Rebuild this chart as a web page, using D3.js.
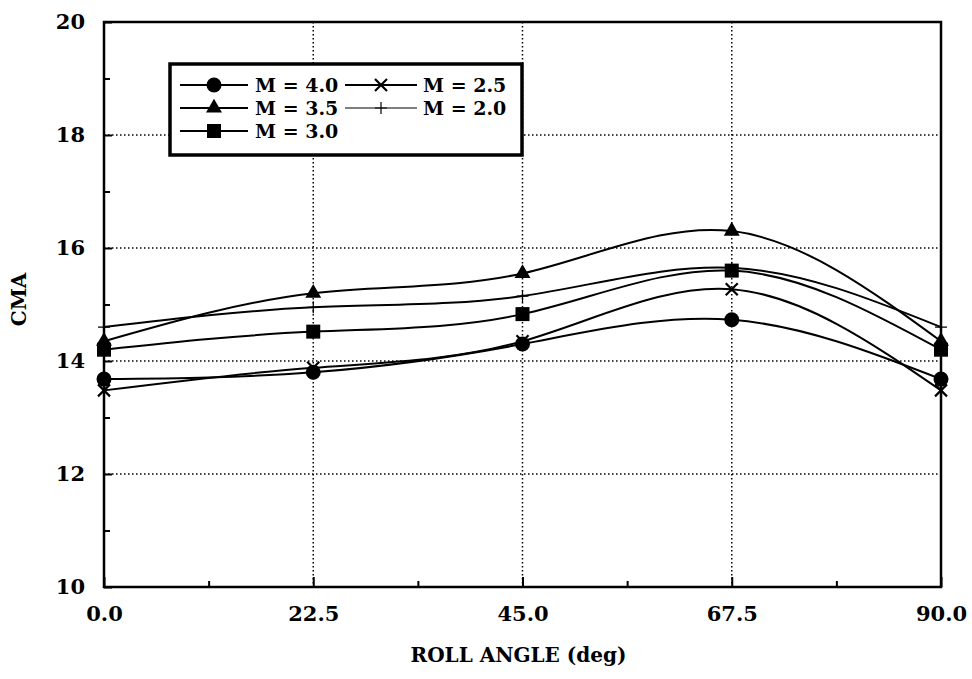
<!DOCTYPE html>
<html><head><meta charset="utf-8">
<script src="https://cdn.jsdelivr.net/npm/d3@7"></script>
<style>
body{margin:0;background:#fff;}
text{font-family:"DejaVu Serif","Liberation Serif",serif;font-weight:bold;fill:#000;}
</style></head>
<body><svg id="c" width="972" height="679"></svg>
<script>
const rollAngles = [0, 22.5, 45, 67.5, 90];
const xTickValues = [0, 22.5, 45, 67.5, 90];
const yTickValues = [10, 12, 14, 16, 18, 20];
const seriesNames = ["M = 4.0", "M = 3.5", "M = 3.0", "M = 2.5", "M = 2.0"];
const seriesSymbols = ["circle", "triangle", "square", "x", "plus"];
const m40 = [13.68, 13.80, 14.30, 14.73, 13.68];
const m35 = [14.35, 15.20, 15.55, 16.30, 14.35];
const m30 = [14.20, 14.52, 14.83, 15.60, 14.20];
const m25 = [13.48, 13.88, 14.35, 15.27, 13.48];
const m20 = [14.60, 14.95, 15.15, 15.65, 14.60];
const seriesValues = [m40, m35, m30, m25, m20];

const svg = d3.select("#c");
const L = 104, R = 941, T = 22, B = 587;
const x = d3.scaleLinear().domain([0, 90]).range([L, R]);
const y = d3.scaleLinear().domain([10, 20]).range([B, T]);

// gridlines
const g = svg.append("g");
g.selectAll(".gx").data(xTickValues.slice(1, -1)).enter().append("line")
  .attr("x1", d => x(d)).attr("x2", d => x(d)).attr("y1", T).attr("y2", B)
  .attr("stroke", "#000").attr("stroke-width", 1.5).attr("stroke-dasharray", "1.5,2.5");
g.selectAll(".gy").data(yTickValues.slice(1, -1)).enter().append("line")
  .attr("y1", d => y(d)).attr("y2", d => y(d)).attr("x1", L).attr("x2", R)
  .attr("stroke", "#000").attr("stroke-width", 1.5).attr("stroke-dasharray", "1.5,2.5");

// axes with inward ticks
const xAxis = d3.axisBottom(x).tickValues(xTickValues).tickSize(-10).tickPadding(19).tickFormat(d3.format(".1f"));
const xMinor = d3.axisBottom(x).tickValues(d3.range(11.25, 90, 22.5)).tickSize(-6).tickFormat("");
const yAxis = d3.axisLeft(y).tickValues(yTickValues).tickSize(-8).tickPadding(19).tickFormat(d3.format("d"));
const yMinor = d3.axisLeft(y).tickValues(d3.range(11, 20, 2)).tickSize(-6).tickFormat("");

function styleAxis(sel){
  sel.select(".domain").remove();
  sel.selectAll(".tick line").attr("stroke", "#000").attr("stroke-width", 2);
  sel.selectAll("text").style("font-size", "21px").attr("fill", "#000");
}
svg.append("g").attr("transform", `translate(0,${B})`).call(xAxis).call(styleAxis);
svg.append("g").attr("transform", `translate(0,${B})`).call(xMinor).call(styleAxis);
svg.append("g").attr("transform", `translate(${L},0)`).call(yAxis).call(styleAxis);
svg.append("g").attr("transform", `translate(${L},0)`).call(yMinor).call(styleAxis);

svg.append("rect").attr("x", L).attr("y", T).attr("width", R - L).attr("height", B - T)
  .attr("fill", "none").attr("stroke", "#000").attr("stroke-width", 2.5);

// axis titles
svg.append("text").attr("x", (L + R) / 2 - 4).attr("y", 662).attr("text-anchor", "middle")
  .style("font-size", "20px").text("ROLL ANGLE (deg)");
svg.append("text").attr("transform", `translate(26,${(T + B) / 2 - 5}) rotate(-90)`).attr("text-anchor", "middle")
  .style("font-size", "20px").text("CMA");

// curves
const line = d3.line().x(d => x(d[0])).y(d => y(d[1])).curve(d3.curveNatural);
seriesValues.forEach((vals, i) => {
  const pts = rollAngles.map((a, j) => [a, vals[j]]);
  svg.append("path").attr("d", line(pts)).attr("fill", "none").attr("stroke", "#000").attr("stroke-width", 2);
});

function drawMarker(sel, sym, cx, cy){
  if (sym === "circle") sel.append("circle").attr("cx", cx).attr("cy", cy).attr("r", 7.5).attr("fill", "#000");
  else if (sym === "square") sel.append("rect").attr("x", cx - 7).attr("y", cy - 7).attr("width", 14).attr("height", 14).attr("fill", "#000");
  else if (sym === "triangle") sel.append("path").attr("d", d3.symbol(d3.symbolTriangle, 110)()).attr("transform", `translate(${cx},${cy})`).attr("fill", "#000");
  else if (sym === "x") sel.append("path").attr("d", `M${cx-6},${cy-6}L${cx+6},${cy+6}M${cx-6},${cy+6}L${cx+6},${cy-6}`).attr("stroke", "#000").attr("stroke-width", 2.2);
  else if (sym === "plus") sel.append("path").attr("d", `M${cx},${cy-6}L${cx},${cy+6}M${cx-6},${cy}L${cx+6},${cy}`).attr("stroke", "#000").attr("stroke-width", 1.2);
}
seriesValues.forEach((vals, i) => {
  const mg = svg.append("g");
  rollAngles.forEach((a, j) => drawMarker(mg, seriesSymbols[i], x(a), y(vals[j])));
});

// legend
const lg = svg.append("g");
lg.append("rect").attr("x", 170).attr("y", 64).attr("width", 352).attr("height", 91)
  .attr("fill", "#fff").attr("stroke", "#000").attr("stroke-width", 3.5);
const legendPos = [[0, 0], [0, 1], [0, 2], [1, 0], [1, 1]];
const colX = [[180, 248, 255], [345, 417, 423]];
const rowY = [85, 108, 131];
seriesNames.forEach((name, i) => {
  const [c, r] = legendPos[i];
  const yy = rowY[r];
  const [x1, x2, tx] = colX[c];
  lg.append("line").attr("x1", x1).attr("x2", x2).attr("y1", yy).attr("y2", yy)
    .attr("stroke", "#000").attr("stroke-width", i === 4 ? 1.2 : 1.8);
  drawMarker(lg, seriesSymbols[i], (x1 + x2) / 2, yy);
  lg.append("text").attr("x", tx).attr("y", yy + 7).style("font-size", "19px").text(name);
});
</script></body></html>
